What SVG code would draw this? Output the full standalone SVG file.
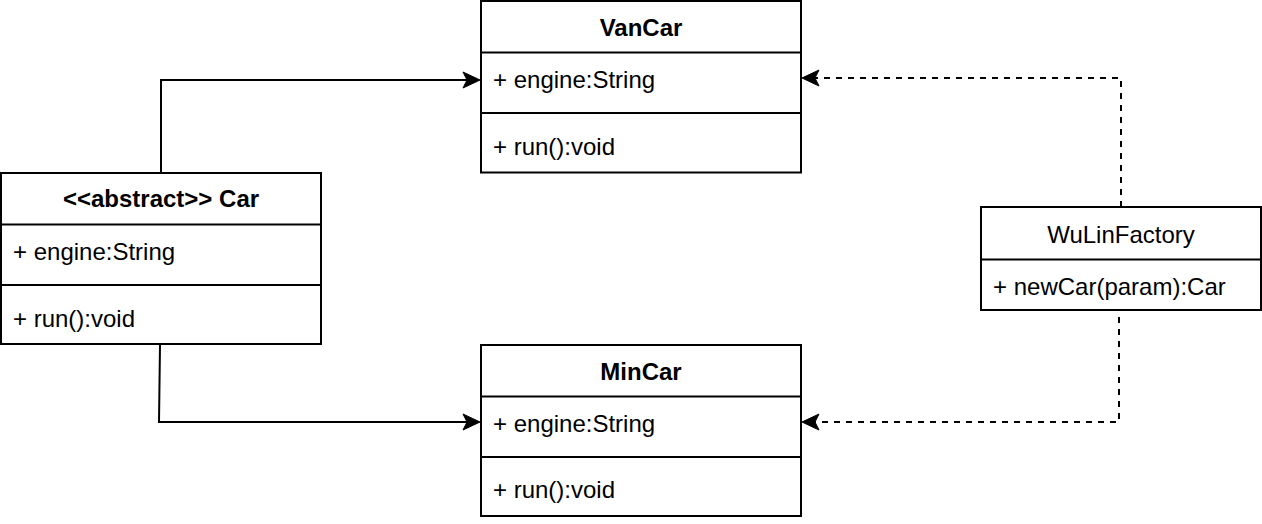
<svg xmlns="http://www.w3.org/2000/svg" width="1262" height="524" viewBox="0 0 1262 524">
<style>
.box{fill:#fff;stroke:#000;stroke-width:2}
.div{stroke:#000;stroke-width:2;fill:none}
.t{font-family:"Liberation Sans",Arial,Helvetica,sans-serif;font-size:24px;fill:#000}
.h{font-weight:bold;text-anchor:middle}
.c{text-anchor:middle}
.conn{fill:none;stroke:#000;stroke-width:2}
.dash{stroke-dasharray:6 6}
</style>
<defs>
<marker id="arr" markerUnits="userSpaceOnUse" markerWidth="40" markerHeight="40" refX="0" refY="0" orient="auto" overflow="visible">
<path d="M13,0 L-4,-8 L0,0 L-4,8 Z" fill="#000" stroke="#000" stroke-width="1"/>
</marker>
</defs>
<g id="connectors">
<path class="conn" d="M161,173 L161,80 L467,80" marker-end="url(#arr)"/>
<path class="conn" d="M160,345 L159,422 L467,422" marker-end="url(#arr)"/>
<path class="conn dash" d="M1121,207 L1121,78 L815,78" marker-end="url(#arr)"/>
<path class="conn dash" d="M1119,317 L1119,422 L815,422" marker-end="url(#arr)"/>
</g>
<g id="VanCar">
<rect class="box" x="481" y="1" width="320" height="171.5"/>
<line class="div" x1="481" y1="52.5" x2="801" y2="52.5"/>
<line class="div" x1="481" y1="113" x2="801" y2="113"/>
<text class="t h" x="641" y="36">VanCar</text>
<text class="t" x="493" y="88">+ engine:String</text>
<text class="t" x="493" y="155">+ run():void</text>
</g>
<g id="Car">
<rect class="box" x="1" y="173" width="320" height="171"/>
<line class="div" x1="1" y1="224.5" x2="321" y2="224.5"/>
<line class="div" x1="1" y1="285" x2="321" y2="285"/>
<text class="t h" x="161" y="207">&lt;&lt;abstract&gt;&gt; Car</text>
<text class="t" x="13" y="260">+ engine:String</text>
<text class="t" x="13" y="327">+ run():void</text>
</g>
<g id="MinCar">
<rect class="box" x="481" y="345" width="320" height="171"/>
<line class="div" x1="481" y1="396.5" x2="801" y2="396.5"/>
<line class="div" x1="481" y1="457" x2="801" y2="457"/>
<text class="t h" x="641" y="380">MinCar</text>
<text class="t" x="493" y="432">+ engine:String</text>
<text class="t" x="493" y="498">+ run():void</text>
</g>
<g id="WuLinFactory">
<rect class="box" x="981" y="207" width="280" height="103"/>
<line class="div" x1="981" y1="259.5" x2="1261" y2="259.5"/>
<text class="t c" x="1121" y="243">WuLinFactory</text>
<text class="t" x="993" y="295">+ newCar(param):Car</text>
</g>
</svg>
